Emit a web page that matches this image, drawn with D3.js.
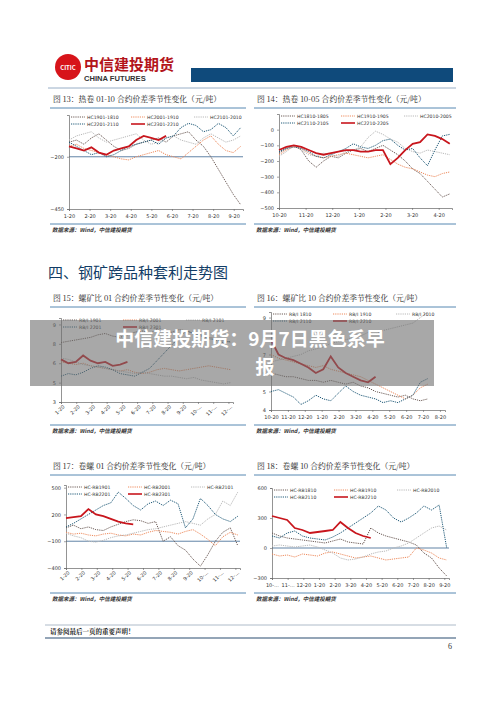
<!DOCTYPE html>
<html><head><meta charset="utf-8">
<script src="https://cdn.jsdelivr.net/npm/d3@7"></script>
<style>body{margin:0;background:#fff}svg{display:block}</style>
</head><body><div class="page"></div>
<script>
// ---- data ----
const xLabels13 = ["1-20","2-20","3-20","4-20","5-20","6-20","7-20","8-20","9-20"];
const hc1901_1810 = [-130,-120,-140,-110,-90,-120,-150,-170,-160,-140,-130,-120,-110,-130,-100,-90,-80,-120,-150,-200,-260,-320,-380,-430];
const hc2001_1910 = [-150,-140,-160,-170,-180,-190,-200,-210,-215,-200,-190,-180,-170,-190,-200,-210,-180,-150,-120,-100,-140,-170,-180,-150];
const hc2101_2010 = [-120,-100,-90,-80,-110,-130,-120,-110,-100,-90,-120,-140,-130,-110,-100,-120,-130,-140,-110,-90,-110,-130,-120,-100];
const hc2201_2110 = [-130,-150,-170,-190,-180,-200,-190,-170,-150,-140,-130,-120,-140,-110,-100,-60,-40,-50,-80,-70,-40,-60,-100,-60];
const hc2301_2210 = [-150,-160,-170,-155,-180,-190,-170,-160,-150,-120,-100,-110,-120,-100];

const xLabels14 = ["10-20","11-20","12-20","1-20","2-20","3-20","4-20"];
const hc1810_1805 = [-150,-120,-100,-130,-200,-240,-200,-170,-180,-150,-130,-120,-140,-120,-100,-130,-160,-200,-250,-280,-330,-380,-430,-410];
const hc1910_1905 = [-160,-130,-110,-120,-150,-170,-180,-170,-160,-150,-160,-170,-180,-170,-160,-190,-220,-240,-250,-270,-290,-300,-280,-270];
const hc2010_2005 = [-170,-140,-100,-130,-160,-170,-150,-160,-170,-140,-130,-110,-50,-10,-30,-60,-80,-120,-140,-150,-130,-140,-150,-160];
const hc2110_2105 = [-140,-120,-110,-120,-140,-170,-180,-160,-140,-120,-90,-110,-120,-100,-70,-60,-100,-130,-120,-180,-230,-130,-40,-30];
const hc2210_2205 = [-130,-110,-100,-110,-130,-150,-160,-150,-140,-130,-130,-140,-140,-130,-130,-220,-180,-130,-90,-80,-30,-40,-60,-90];

const xLabels15 = ["1-20","2-20","3-20","4-20","5-20","6-20","7-20","8-20","9-20","10-…","11-…","12-…"];
const rbi1901 = [7.6,7.7,7.8,7.9,8.0,8.2,8.3,8.1,8.0,8.2,8.4,8.5,8.3,8.6,8.5,8.4,8.6,8.5,8.3,8.1,8.0,7.9,7.8,7.6];
const rbi2001 = [6.1,6.0,5.9,6.0,5.8,5.7,5.6,5.5,5.4,5.5,5.3,5.2,5.3,5.5,5.6,5.5,5.4,5.5,5.6,5.7,5.8,5.7,5.6,5.5];
const rbi2101 = [6.4,6.3,6.1,5.9,5.8,5.7,5.6,5.5,5.4,5.3,5.2,5.3,5.2,5.1,5.0,5.0,4.9,4.8,4.9,4.7,4.6,4.5,4.4,4.5];
const rbi2201 = [5.0,5.2,5.1,5.3,5.6,5.8,5.7,5.5,5.2,5.1,5.0,5.3,5.6,6.2,6.8,7.4,8.0,8.5,8.3,8.2,7.9,7.8,7.6,7.7];
const rbi2301 = [6.3,6.0,6.1,6.6,6.2,6.0,6.1,5.8,5.9,6.1];

const xLabels16 = ["10-20","11-20","12-20","1-20","2-20","3-20","4-20","5-20","6-20","7-20","8-20"];
const rbi1810 = [6.0,5.9,5.8,5.8,5.7,5.6,5.6,5.5,5.6,5.5,5.4,5.5,5.3,5.2,5.0,4.9,4.8,4.7,4.8,4.6,4.5,4.6];
const rbi1910 = [7.0,6.8,6.7,6.6,6.5,6.4,6.3,6.4,6.2,6.1,6.0,5.9,5.8,5.6,5.4,5.2,5.0,4.8,4.6,4.8,5.2,5.4];
const rbi2010 = [6.6,6.7,6.8,6.9,7.0,7.2,7.3,7.4,7.6,7.7,7.8,7.9,8.0,8.2,8.1,8.3,8.4,8.5,8.6,8.7,9.0,9.3];
const rbi2110 = [5.0,5.1,4.9,4.7,4.3,4.5,4.8,4.6,4.5,4.9,5.3,5.0,4.8,4.7,4.6,4.4,4.5,4.4,4.6,4.8,5.5,5.7];
const rbi2210 = [7.8,7.0,6.8,6.7,6.5,6.3,6.0,6.2,6.9,6.3,6.0,5.8,5.6,5.5,5.8];

const hcrb1901 = [50,80,40,60,30,20,60,90,120,140,130,100,120,-100,-50,-150,-200,-300,-380,-250,-100,0,50,-150];
const hcrb2001 = [0,-20,-10,-30,-40,-20,-10,-30,-40,-20,-30,0,20,10,0,-20,10,30,-20,-80,-150,-50,0,-30];
const hcrb2101 = [-10,-40,-60,-100,-110,-90,-60,-40,-30,-10,10,30,40,60,80,100,120,100,80,150,200,350,300,450];
const hcrb2201 = [60,100,150,200,250,300,330,450,380,300,250,320,350,300,360,320,50,150,380,300,200,150,120,180];
const hcrb2301 = [160,170,180,260,200,180,150,120,100,90];

const xLabels18 = ["10-…","11-…","12-20","1-20","2-20","3-20","4-20","5-20","6-20","7-20","8-20","9-20"];
const hcrb1810 = [150,120,100,90,80,70,60,50,70,90,60,50,40,200,150,120,100,80,60,30,-50,-100,-200,-280];
const hcrb1910 = [-60,-80,-70,-90,-60,-70,-80,-50,-40,-60,-80,-100,-90,-80,-100,-120,-110,-100,-90,0,-20,-50,-100,-120];
const hcrb2010 = [20,30,20,10,20,30,10,-20,-50,-100,-120,-110,-90,-60,-40,-30,0,20,50,100,150,200,220,180];
const hcrb2110 = [120,100,150,170,120,100,90,80,110,150,200,250,300,350,420,380,300,260,300,350,420,380,430,0];
const hcrb2210 = [320,300,280,200,180,150,160,170,180,260,200,150,120,100];

const cDark = "#6b5a55", cOrange = "#ee8a5c", cGrey = "#b8b8b8", cTeal = "#1f5a78", cRed = "#c8161d";
const font = "'Noto Sans CJK SC', 'Noto Sans', sans-serif";

const svg = d3.select(".page").append("svg").attr("width", 500).attr("height", 707);

// header
svg.append("circle").attr("cx", 68).attr("cy", 67).attr("r", 13).attr("fill", "#d7141a");
svg.append("text").attr("x", 68).attr("y", 70).attr("text-anchor", "middle").attr("font-size", 6)
  .attr("font-weight", "bold").attr("fill", "#fff").attr("font-family", font).text("CITIC");
svg.append("text").attr("x", 84).attr("y", 70).attr("font-size", 15).attr("font-weight", "bold")
  .attr("fill", "#b3141a").attr("font-family", "'Noto Sans CJK SC'").text("中信建投期货");
svg.append("text").attr("x", 84).attr("y", 81).attr("font-size", 7.6).attr("font-weight", "bold")
  .attr("fill", "#333").attr("font-family", "'Liberation Sans'").text("CHINA FUTURES");
svg.append("rect").attr("x", 191).attr("y", 68).attr("width", 262).attr("height", 14).attr("fill", "#0f4a7b");
svg.append("line").attr("x1", 48).attr("x2", 456).attr("y1", 88).attr("y2", 88).attr("stroke", "#7d9bb8").attr("stroke-width", 0.8);

svg.append("text").attr("x", 48).attr("y", 278).attr("font-size", 15).attr("fill", "#123d66")
  .attr("font-family", "'Noto Sans CJK SC'").text("四、钢矿跨品种套利走势图");

function drawChart(c) {
  const g = svg.append("g");
  g.append("text").attr("x", c.x0 + 3).attr("y", c.titleY).attr("font-size", 7.8).attr("fill", "#222")
    .attr("font-family", "'Noto Serif CJK SC','Noto Sans CJK SC'").text(c.title);
  g.append("line").attr("x1", c.x0).attr("x2", c.x1).attr("y1", c.titleY + 6).attr("y2", c.titleY + 6)
    .attr("stroke", "#2c6aa0").attr("stroke-width", 0.8);
  g.append("line").attr("x1", c.x0).attr("x2", c.x1).attr("y1", c.srcY - 8).attr("y2", c.srcY - 8)
    .attr("stroke", "#2c6aa0").attr("stroke-width", 0.8);
  g.append("text").attr("x", c.x0 + 2).attr("y", c.srcY).attr("font-size", 5.5).attr("font-style", "italic")
    .attr("font-weight", "bold").attr("fill", "#333").attr("font-family", font).text("数据来源：Wind，中信建投期货");

  const xEnd = c.xLabels.length - 1 + c.xPad;
  const x = d3.scaleLinear().domain([0, xEnd]).range([c.left, c.right]);
  const y = d3.scaleLinear().domain(c.yDomain).range([c.bottom, c.top]);
  const step = xEnd / 23.3;

  if (c.ref !== undefined) {
    g.append("line").attr("x1", c.left).attr("x2", c.right).attr("y1", y(c.ref)).attr("y2", y(c.ref))
      .attr("stroke", "#1c4d80").attr("stroke-width", 0.7);
  }
  const yAxis = g.append("g").attr("transform", `translate(${c.left},0)`)
    .call(d3.axisLeft(y).tickValues(c.yTicks).tickSize(2).tickFormat(d3.format(".0f")));
  const xAxis = g.append("g").attr("transform", `translate(0,${c.bottom})`)
    .call(d3.axisBottom(x).tickValues(d3.range(c.xLabels.length)).tickSize(2).tickFormat(i => c.xLabels[i]));
  [xAxis, yAxis].forEach(a => {
    a.select(".domain").attr("stroke", "#666").attr("stroke-width", 0.7);
    a.selectAll(".tick line").attr("stroke", "#666").attr("stroke-width", 0.6);
    a.selectAll("text").attr("font-size", 5).attr("fill", "#333").attr("font-family", "'DejaVu Sans'");
  });
  if (c.rotate) {
    xAxis.selectAll("text").attr("text-anchor", "end").attr("dy", "0.2em").attr("dx", "-0.2em")
      .attr("transform", "rotate(-45)");
  }

  const line = d3.line().x((d, i) => x(i * step)).y(d => y(d));
  c.series.forEach(s => {
    g.append("path").datum(s.values).attr("d", line).attr("fill", "none").attr("stroke", s.color)
      .attr("stroke-width", s.solid ? 1.8 : 1.0).attr("stroke-dasharray", s.solid ? null : "1.2,1");
  });

  // legend
  const colX = [c.left + 2, c.left + 62, c.left + 125];
  c.series.forEach((s, i) => {
    const lx = colX[i % 3], ly = c.top + 2 + Math.floor(i / 3) * 7;
    g.append("line").attr("x1", lx).attr("x2", lx + 14).attr("y1", ly).attr("y2", ly)
      .attr("stroke", s.color).attr("stroke-width", s.solid ? 1.6 : 1).attr("stroke-dasharray", s.solid ? null : "1.2,1");
    g.append("text").attr("x", lx + 16).attr("y", ly + 1.8).attr("font-size", 4.6).attr("fill", "#333")
      .attr("font-family", "'DejaVu Sans'").text(s.name);
  });
}

const charts = [
  {title: "图 13：热卷 01-10 合约价差季节性变化（元/吨）", x0: 50, x1: 246, titleY: 102, srcY: 232,
   left: 69, right: 243, top: 115, bottom: 209, yDomain: [-450, 0], yTicks: [-450, -200], ref: -200,
   xLabels: xLabels13, xPad: 0.45, rotate: false,
   series: [{name: "HC1901-1810", values: hc1901_1810, color: cDark}, {name: "HC2001-1910", values: hc2001_1910, color: cOrange},
     {name: "HC2101-2010", values: hc2101_2010, color: cGrey}, {name: "HC2201-2110", values: hc2201_2110, color: cTeal},
     {name: "HC2301-2210", values: hc2301_2210, color: cRed, solid: true}]},
  {title: "图 14：热卷 10-05 合约价差季节性变化（元/吨）", x0: 254, x1: 456, titleY: 102, srcY: 232,
   left: 279, right: 452, top: 114, bottom: 208, yDomain: [-500, 100], yTicks: [-500, -400, -300, -200, -100, 0],
   xLabels: xLabels14, xPad: 0.5, rotate: false,
   series: [{name: "HC1810-1805", values: hc1810_1805, color: cDark}, {name: "HC1910-1905", values: hc1910_1905, color: cOrange},
     {name: "HC2010-2005", values: hc2010_2005, color: cGrey}, {name: "HC2110-2105", values: hc2110_2105, color: cTeal},
     {name: "HC2210-2205", values: hc2210_2205, color: cRed, solid: true}]},
  {title: "图 15：螺矿比 01 合约价差季节性变化（元/吨）", x0: 50, x1: 246, titleY: 301, srcY: 433,
   left: 61, right: 233, top: 318, bottom: 402, yDomain: [3, 9.5], yTicks: [3, 4.5, 6, 7.5, 9],
   xLabels: xLabels15, xPad: 0.3, rotate: true,
   series: [{name: "RB/I 1901", values: rbi1901, color: cDark}, {name: "RB/I 2001", values: rbi2001, color: cOrange},
     {name: "RB/I 2101", values: rbi2101, color: cGrey}, {name: "RB/I 2201", values: rbi2201, color: cTeal},
     {name: "RB/I 2301", values: rbi2301, color: cRed, solid: true}]},
  {title: "图 16：螺矿比 10 合约价差季节性变化（元/吨）", x0: 254, x1: 456, titleY: 301, srcY: 433,
   left: 271, right: 445, top: 312, bottom: 410, yDomain: [4, 9.3], yTicks: [4, 5, 6, 7, 8, 9],
   xLabels: xLabels16, xPad: 0.3, rotate: false,
   series: [{name: "RB/I 1810", values: rbi1810, color: cDark}, {name: "RB/I 1910", values: rbi1910, color: cOrange},
     {name: "RB/I 2010", values: rbi2010, color: cGrey}, {name: "RB/I 2110", values: rbi2110, color: cTeal},
     {name: "RB/I 2210", values: rbi2210, color: cRed, solid: true}]},
  {title: "图 17：卷螺 01 合约价差季节性变化（元/吨）", x0: 50, x1: 246, titleY: 469, srcY: 601,
   left: 66, right: 240, top: 485, bottom: 568, yDomain: [-400, 530], yTicks: [-400, -100, 200, 500], ref: -100,
   xLabels: xLabels15, xPad: 0.3, rotate: true,
   series: [{name: "HC-RB1901", values: hcrb1901, color: cDark}, {name: "HC-RB2001", values: hcrb2001, color: cOrange},
     {name: "HC-RB2101", values: hcrb2101, color: cGrey}, {name: "HC-RB2201", values: hcrb2201, color: cTeal},
     {name: "HC-RB2301", values: hcrb2301, color: cRed, solid: true}]},
  {title: "图 18：卷螺 10 合约价差季节性变化（元/吨）", x0: 254, x1: 456, titleY: 469, srcY: 601,
   left: 272, right: 449, top: 488, bottom: 578, yDomain: [-300, 600], yTicks: [-300, 0, 300, 600], ref: 0,
   xLabels: xLabels18, xPad: 0.3, rotate: false,
   series: [{name: "HC-RB1810", values: hcrb1810, color: cDark}, {name: "HC-RB1910", values: hcrb1910, color: cOrange},
     {name: "HC-RB2010", values: hcrb2010, color: cGrey}, {name: "HC-RB2110", values: hcrb2110, color: cTeal},
     {name: "HC-RB2210", values: hcrb2210, color: cRed, solid: true}]}
];
charts.forEach(drawChart);

// watermark
svg.append("rect").attr("x", 30).attr("y", 320).attr("width", 404).attr("height", 66)
  .attr("fill", "#6e6e6e").attr("opacity", 0.6);
svg.append("text").attr("x", 250).attr("y", 346).attr("text-anchor", "middle").attr("font-size", 19)
  .attr("font-weight", "bold").attr("fill", "#fff").attr("font-family", "'Noto Sans CJK SC'").text("中信建投期货：9月7日黑色系早");
svg.append("text").attr("x", 265).attr("y", 374).attr("text-anchor", "middle").attr("font-size", 19)
  .attr("font-weight", "bold").attr("fill", "#fff").attr("font-family", "'Noto Sans CJK SC'").text("报");

// footer
svg.append("line").attr("x1", 45).attr("x2", 456).attr("y1", 625).attr("y2", 625).attr("stroke", "#9aaabb").attr("stroke-width", 0.8);
svg.append("text").attr("x", 50).attr("y", 634).attr("font-size", 6.5).attr("font-weight", "bold").attr("fill", "#222")
  .attr("font-family", "'Noto Serif CJK SC','Noto Sans CJK SC'").text("请参阅最后一页的重要声明！");
svg.append("line").attr("x1", 45).attr("x2", 456).attr("y1", 638).attr("y2", 638).attr("stroke", "#2b4d70").attr("stroke-width", 1.2);
svg.append("text").attr("x", 452).attr("y", 649).attr("text-anchor", "end").attr("font-size", 8).attr("fill", "#333")
  .attr("font-family", "'Liberation Serif'").text("6");
</script></body></html>
